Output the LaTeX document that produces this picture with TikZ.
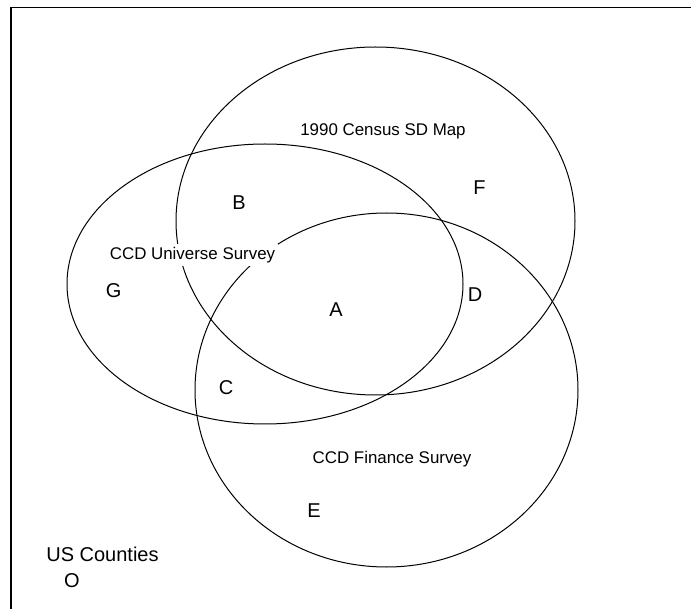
\documentclass[tikz,border=0pt]{standalone}
\usepackage{fontspec}
\setmainfont{Liberation Sans}
\begin{document}
\begin{tikzpicture}[x=1pt,y=-1pt,
  setname/.style={fill=white,inner sep=3pt,font=\fontsize{16.9}{18}\selectfont},
  region/.style={inner sep=1pt,font=\fontsize{20}{22}\selectfont}]
\useasboundingbox (0,0) rectangle (691,609);
\draw[line width=1.6] (11,609) -- (11,7.5) -- (691,7.5);
% the three sets
\draw[line width=1] (375.5,221) ellipse [x radius=199.5, y radius=174];
\draw[line width=1] (265,284) ellipse [x radius=198, y radius=140];
\draw[line width=1] (386.5,390) ellipse [x radius=191.5, y radius=177];

\node[setname] (census) at (383,131) {1990 Census SD Map};
\node[setname] (universe) at (192.5,254.8) {CCD Universe Survey};
\node[setname] (finance) at (392,459.3) {CCD Finance Survey};
\node[region] (counties) at (102.5,554) {US Counties};

\node[region] (a) at (336,309.5) {A};
\node[region] (b) at (239,203) {B};
\node[region] (c) at (226,388) {C};
\node[region] (d) at (475,295) {D};
\node[region] (e) at (314,510.7) {E};
\node[region] (f) at (479.5,187.6) {F};
\node[region] (g) at (113.7,290.5) {G};
\node[region] (o) at (72,580.6) {O};
\end{tikzpicture}
\end{document}
